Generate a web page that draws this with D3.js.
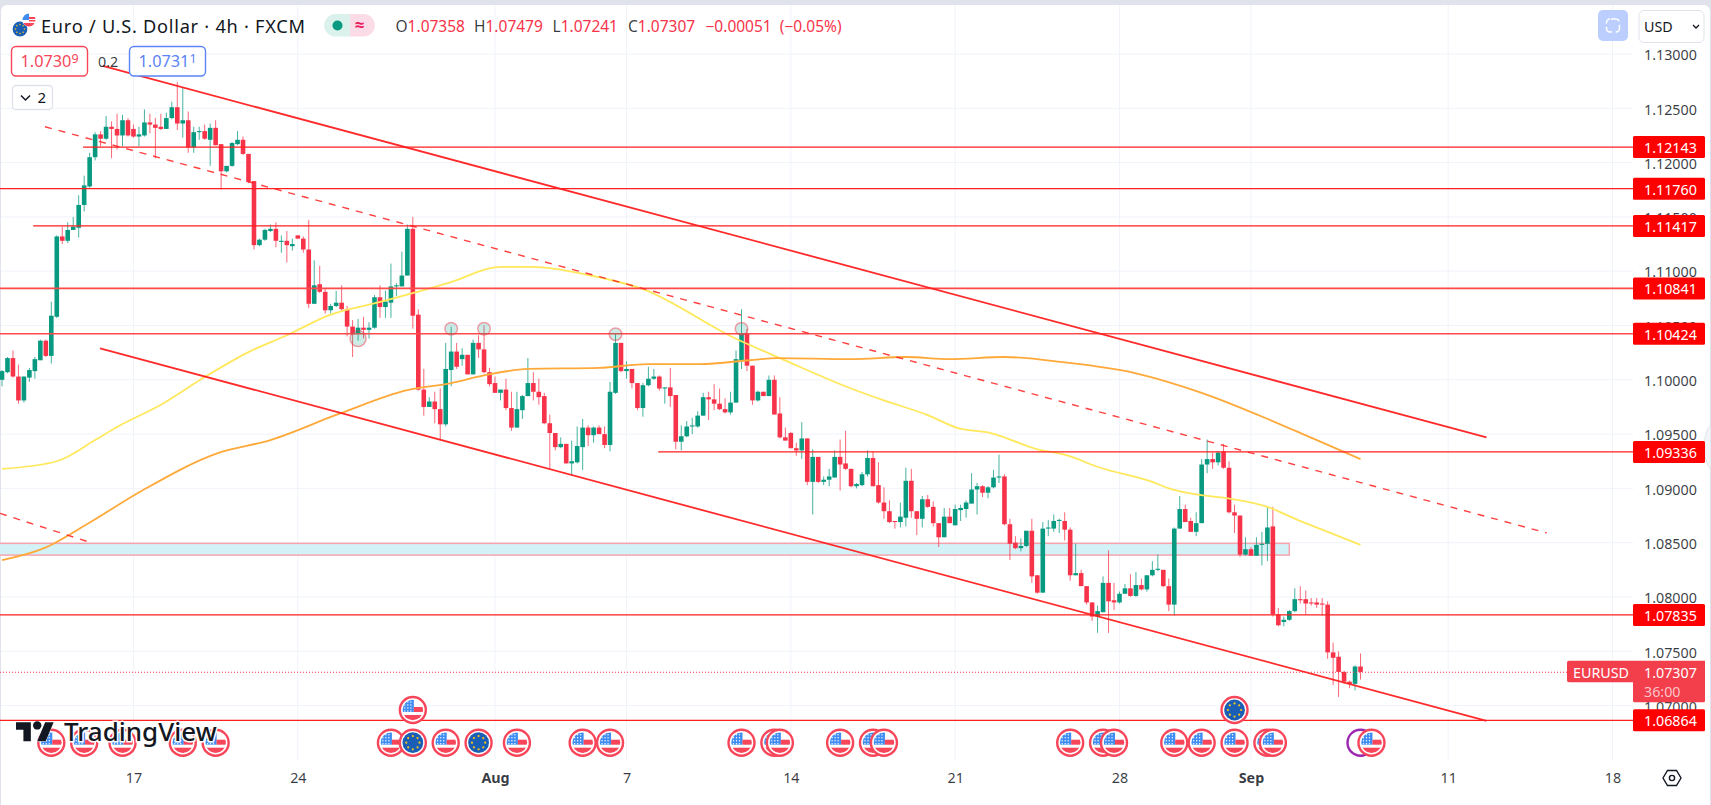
<!DOCTYPE html>
<html><head><meta charset="utf-8">
<script src="https://cdn.jsdelivr.net/npm/d3@7/dist/d3.min.js"></script>
<style>
html,body{margin:0;padding:0;background:#e0e3eb;overflow:hidden}
svg{display:block}
text{font-family:"Noto Sans","Open Sans",sans-serif}
</style></head><body><svg id="c" width="1711" height="805"></svg>
<script>
// Prices are in units of 0.0001 (pips); bar index 0 is the leftmost visible 4h bar.
const opens=[
11000,11007,11020,11003,10981,11002,11008,11018,11036,11022,
11058,11132,11128,11138,11140,11161,11178,11205,11226,11222,
11233,11231,11225,11239,11231,11224,11225,11237,11235,11233,
11231,11241,11251,11236,11239,11214,11228,11229,11221,11232,
11217,11192,11197,11217,11221,11208,11183,11124,11129,11137,
11139,11127,11128,11123,11133,11130,11120,11070,11088,11081,
11064,11068,11071,11065,11049,11043,11048,11046,11048,11076,
11067,11071,11086,11086,11096,11139,11060,10991,10975,10980,
10973,10959,11009,11026,11019,11023,11005,11034,11028,11007,
10997,10988,10991,10974,10956,10972,10985,10997,10989,10985,
10960,10951,10938,10941,10923,10924,10938,10956,10949,10956,
10950,10940,10988,11034,11008,11010,10997,10974,10995,11001,
11003,10992,10993,10986,10943,10948,10957,10957,10967,10984,
10982,10978,10973,10970,10979,11018,11043,11013,10981,10989,
10985,11000,10969,10947,10951,10937,10935,10946,10906,10929,
10906,10908,10910,10929,10923,10918,10902,10903,10913,10928,
10903,10887,10879,10870,10869,10873,10907,10879,10872,10890,
10883,10868,10855,10874,10866,10880,10881,10886,10899,10902,
10896,10901,10910,10911,10867,10850,10845,10847,10861,10820,
10804,10863,10863,10870,10870,10862,10820,10822,10810,10795,
10782,10786,10813,10797,10795,10803,10808,10801,10811,10807,
10820,10825,10825,10810,10793,10863,10881,10870,10860,10868,
10922,10927,10924,10934,10919,10878,10875,10839,10844,10838,
10848,10849,10865,10784,10777,10779,10787,10798,10798,10795,
10795,10794,10793,10749,10745,10731,10722,10720,10736];
const highs=[
11009,11021,11027,11014,11003,11011,11021,11037,11037,11072,
11133,11141,11145,11150,11170,11188,11209,11228,11229,11243,
11238,11245,11244,11241,11235,11233,11249,11245,11241,11245,
11246,11256,11274,11269,11247,11233,11233,11235,11236,11239,
11217,11197,11219,11229,11224,11208,11183,11130,11139,11143,
11145,11133,11137,11130,11133,11132,11147,11110,11105,11084,
11070,11082,11087,11068,11055,11056,11058,11053,11078,11087,
11082,11107,11089,11118,11143,11150,11065,11010,10984,10989,
10992,11034,11049,11034,11029,11023,11037,11041,11050,11011,
11003,10991,11001,10989,10989,10986,11020,11007,11001,10988,
10968,10951,10947,10941,10944,10957,10964,10958,10957,10958,
10957,10998,11043,11034,11017,11010,10997,10997,11012,11010,
11004,10993,11011,10986,10958,10962,10965,10971,10988,10989,
10996,10992,10983,10989,11027,11065,11047,11013,10990,10989,
11004,11004,10984,10956,10952,10942,10961,10946,10936,10929,
10911,10918,10935,10945,10953,10918,10905,10915,10935,10934,
10924,10901,10889,10870,10887,10919,10918,10879,10893,10894,
10888,10868,10882,10882,10885,10885,10889,10914,10905,10903,
10902,10917,10931,10913,10872,10856,10854,10861,10872,10820,
10869,10871,10876,10872,10878,10864,10849,10825,10810,10795,
10792,10819,10843,10813,10805,10812,10821,10823,10817,10820,
10833,10839,10825,10817,10864,10893,10885,10873,10878,10927,
10945,10933,10934,10941,10925,10885,10875,10855,10846,10855,
10860,10883,10883,10790,10782,10788,10808,10810,10806,10799,
10799,10799,10796,10758,10750,10732,10723,10737,10748];
const lows=[
10994,11006,11002,10978,10979,10998,11001,11018,11021,11015,
11057,11125,11126,11138,11131,11155,11177,11202,11215,11221,
11204,11212,11215,11224,11223,11215,11224,11227,11204,11230,
11231,11240,11230,11223,11209,11209,11221,11221,11197,11216,
11175,11191,11196,11216,11207,11181,11120,11123,11128,11136,
11122,11117,11108,11119,11130,11117,11066,11070,11080,11061,
11061,11067,11064,11040,11021,11036,11038,11038,11047,11057,
11057,11057,11077,11086,11096,11047,10990,10967,10975,10960,
10945,10957,10994,11010,11013,11005,11005,11020,11006,10994,
10988,10981,10972,10953,10956,10964,10985,10981,10977,10959,
10918,10935,10937,10923,10912,10923,10917,10939,10942,10950,
10937,10934,10987,11007,11001,10992,10972,10966,10994,11000,
10990,10978,10975,10936,10935,10947,10950,10956,10967,10963,
10972,10972,10969,10968,10979,11010,11008,10977,10980,10985,
10985,10968,10946,10944,10937,10930,10927,10903,10876,10905,
10903,10902,10910,10898,10917,10901,10900,10902,10911,10902,
10886,10872,10868,10863,10864,10865,10873,10857,10864,10882,
10865,10846,10855,10868,10866,10870,10873,10886,10876,10892,
10891,10900,10905,10866,10834,10844,10842,10846,10813,10803,
10804,10856,10860,10859,10852,10815,10820,10810,10793,10778,
10767,10786,10767,10788,10794,10803,10800,10800,10806,10805,
10819,10824,10809,10787,10783,10863,10869,10860,10856,10868,
10914,10918,10921,10918,10877,10859,10837,10838,10838,10838,
10829,10833,10782,10773,10773,10778,10786,10794,10784,10792,
10790,10783,10743,10719,10708,10720,10716,10714,10724];
const closes=[
11008,11020,11003,10981,11003,11009,11019,11036,11022,11059,
11132,11128,11138,11141,11161,11179,11205,11226,11222,11233,
11231,11225,11239,11225,11224,11226,11237,11235,11232,11231,
11241,11251,11236,11239,11214,11228,11229,11222,11232,11216,
11192,11197,11218,11221,11208,11182,11124,11129,11138,11139,
11128,11128,11124,11125,11130,11120,11070,11087,11081,11064,
11068,11071,11065,11049,11042,11048,11046,11048,11076,11067,
11072,11086,11087,11096,11139,11059,10991,10975,10980,10973,
10959,11010,11026,11012,11023,11005,11034,11028,11007,10996,
10988,10991,10974,10956,10973,10985,10997,10989,10984,10960,
10951,10938,10941,10923,10925,10939,10956,10949,10956,10950,
10940,10989,11034,11008,11010,10997,10974,10995,11001,11003,
10992,10993,10985,10943,10948,10957,10958,10967,10984,10982,
10978,10973,10970,10979,11019,11043,11013,10981,10989,10985,
11000,10968,10947,10944,10937,10935,10946,10906,10929,10906,
10908,10911,10929,10922,10918,10902,10904,10913,10928,10902,
10887,10879,10869,10869,10874,10907,10879,10872,10890,10883,
10868,10855,10874,10868,10881,10882,10887,10899,10902,10896,
10901,10910,10911,10867,10849,10845,10847,10861,10819,10804,
10863,10864,10870,10871,10862,10820,10822,10810,10795,10782,
10787,10813,10796,10795,10803,10808,10801,10811,10807,10820,
10825,10826,10810,10793,10863,10881,10869,10860,10868,10922,
10927,10924,10933,10919,10878,10875,10839,10844,10838,10848,
10849,10864,10784,10774,10779,10787,10798,10797,10794,10794,
10793,10793,10749,10744,10731,10722,10720,10736,10731];

// moving averages: [bar index, price]
const yellowBars=[0,10,17,21,29,37,45,52,60,68.5,82,91,97,107,117,133.5,142,155,161,169,174.5,180.5,189,194,200.5,210,213,218.7,223.6,231,236.5,242.5,248];
const yellowVals=[10918,10925,10944.5,10956.5,10977,11002.5,11025.5,11041,11060,11071,11090,11104,11104,11096.5,11083.5,11039,11020,10992,10981,10967.5,10955.5,10951,10936,10931,10919,10906,10900,10894,10891,10883,10871,10859,10848];
const orangeBars=[0,7.7,15.5,25.6,39.4,49,61.7,74,82,88,96,109,118,127.4,136.5,141.5,155,165,173,183,194,207,219,231.5,239.3,248];
const orangeVals=[10834,10845,10867,10898,10932.5,10944.5,10969,10990.5,10997,11004,11010,11011,11014.5,11014.5,11018,11020,11019,11021,11019,11021,11016,11006,10988,10963,10946,10927];

// horizontal levels
const levelPrices=[1.12143,1.11760,1.11417,1.10841,1.10424,1.09336,1.07835,1.06864];
const levelStart=[14.8,-1,5.7,-1,-1,119.8,-1,-1];
const levelHeavy=[false,false,false,true,true,false,false,false];

// trend lines as [barA, priceA, barB, priceB]
const channelUpper=[18.4,11289,271,10947];
const channelLower=[17.9,11029,271,10686];
const channelMid=[7.85,11233,282,10859];
const channelOld=[-0.37,10877,16.25,10850];

// support zone
const zoneTop=10849.4, zoneBottom=10838.6, zoneEndBar=235;

// circled pivots
const pivotBars=[65,82,88,112,135];
const pivotVals=[11038,11047,11047,11042,11047];
const pivotSizes=[8,6.3,6.3,6.3,6.3];

// axis
const priceTicks=[1.13,1.125,1.12,1.115,1.11,1.105,1.10,1.095,1.09,1.085,1.08,1.075,1.07];
const timeTickBars=[24,54,90,114,144,174,204,228,264,294];
const timeTickLabels=["17","24","Aug","7","14","21","28","Sep","11","18"];
const timeTickBold=["Aug","Sep"];

// economic events
const usEventBars=[9,15,22,33,39,71,81,94,106,111,135,141,142,153,159,161,195,201,203,214,219,225,231,232];
const euEventBars=[75,87];
const usTopBars=[75];
const euTopBars=[225];
const otherEventBars=[248];
const usEventLast=250;

const svg=d3.select("#c");
const W=1711,H=805,axisX=1633,axisBottomY=760;
const x=d3.scaleLinear().domain([0,294]).range([2,1612.5]);
const y=d3.scaleLinear().domain([1.13,1.07]).range([54,705.6]);
const yp=v=>y(v/1e4);
const UP="#089981",DOWN="#f7334a",LINE="#ff1f1f";

const defs=svg.append("defs");
defs.append("clipPath").attr("id","plot").append("rect").attr("x",0).attr("y",5).attr("width",axisX).attr("height",axisBottomY-5);
defs.append("clipPath").attr("id","flagClip").append("circle").attr("r",10.2);
defs.append("clipPath").attr("id","miniClip").append("circle").attr("r",6.5);

// background
svg.append("rect").attr("width",W).attr("height",H).attr("fill","#e0e3eb");
svg.append("rect").attr("x",1).attr("y",5).attr("width",W-2).attr("height",H+10).attr("rx",6).attr("fill","#fff");

// grid
const grid=svg.append("g").attr("stroke","#f0f3fa").attr("stroke-width",1);
grid.selectAll("line.v").data(timeTickBars).join("line").attr("x1",d=>x(d)).attr("x2",d=>x(d)).attr("y1",5).attr("y2",axisBottomY);
grid.selectAll("line.h").data(priceTicks).join("line").attr("x1",1).attr("x2",axisX).attr("y1",d=>y(d)).attr("y2",d=>y(d));

const plot=svg.append("g").attr("clip-path","url(#plot)");

// zone
plot.append("rect").attr("x",x(-2)).attr("y",yp(zoneTop)).attr("width",x(zoneEndBar)-x(-2)).attr("height",yp(zoneBottom)-yp(zoneTop))
 .attr("fill","#d3f2f8").attr("stroke","#f7a3ab").attr("stroke-width",1.5);

// candles
const bars=d3.range(opens.length);
const gc=plot.append("g");
gc.selectAll("line").data(bars).join("line")
 .attr("x1",i=>x(i)).attr("x2",i=>x(i)).attr("y1",i=>yp(highs[i])).attr("y2",i=>yp(lows[i]))
 .attr("stroke",i=>closes[i]>=opens[i]?UP:DOWN).attr("stroke-width",1).attr("stroke-opacity",.75);
gc.selectAll("rect").data(bars).join("rect")
 .attr("x",i=>x(i)-2.3).attr("width",4.6)
 .attr("y",i=>yp(Math.max(opens[i],closes[i])))
 .attr("height",i=>Math.max(1,Math.abs(yp(opens[i])-yp(closes[i]))))
 .attr("fill",i=>closes[i]>=opens[i]?UP:DOWN);

// moving averages
const ma=(bx,vals)=>d3.line().x((d,i)=>x(bx[i])).y(d=>yp(d)).curve(d3.curveMonotoneX)(vals);
plot.append("path").attr("d",ma(yellowBars,yellowVals)).attr("fill","none").attr("stroke","#ffe85c").attr("stroke-width",1.8);
plot.append("path").attr("d",ma(orangeBars,orangeVals)).attr("fill","none").attr("stroke","#ffa93a").attr("stroke-width",1.8);

// levels
const lg=plot.append("g");
levelPrices.forEach((p,i)=>{
 lg.append("line").attr("x1",x(levelStart[i])).attr("x2",axisX).attr("y1",y(p)).attr("y2",y(p))
  .attr("stroke",levelHeavy[i]?"#ff4a4a":LINE).attr("stroke-width",levelHeavy[i]?1.7:1.3);
});

// trend lines
function trend(a,dash,w,op){
 const l=plot.append("line").attr("x1",x(a[0])).attr("y1",yp(a[1])).attr("x2",x(a[2])).attr("y2",yp(a[3]))
  .attr("stroke",LINE).attr("stroke-width",w).attr("stroke-opacity",op);
 if(dash) l.attr("stroke-dasharray",dash);
}
trend(channelUpper,null,1.8,.95);
trend(channelLower,null,1.8,.95);
trend(channelMid,"7 7",1.4,.85);
trend(channelOld,"7 7",1.4,.85);

// current price dotted
const lastClose=1.07307;
plot.append("line").attr("x1",0).attr("x2",axisX).attr("y1",y(lastClose)).attr("y2",y(lastClose))
 .attr("stroke",DOWN).attr("stroke-dasharray","1 2").attr("stroke-width",1);

// pivots
plot.selectAll("circle.p").data(pivotBars).join("circle")
 .attr("cx",d=>x(d)).attr("cy",(d,i)=>yp(pivotVals[i])).attr("r",(d,i)=>pivotSizes[i])
 .attr("fill","#089981").attr("fill-opacity",.2).attr("stroke","#f7334a").attr("stroke-opacity",.45).attr("stroke-width",1.5);

// flags
function usFlag(g){
 g.append("circle").attr("r",13).attr("fill","#fff").attr("stroke","#f7455a").attr("stroke-width",2.4);
 const f=g.append("g").attr("clip-path","url(#flagClip)");
 f.append("rect").attr("x",-11).attr("y",-11).attr("width",22).attr("height",22).attr("fill","#fff");
 f.append("rect").attr("x",-11).attr("y",-11).attr("width",12).attr("height",13).attr("fill","#3f8df0");
 f.append("rect").attr("x",1).attr("y",-3).attr("width",10).attr("height",3).attr("fill","#f7455a");
 f.append("rect").attr("x",-11).attr("y",5).attr("width",22).attr("height",6).attr("fill","#f7455a");
 f.append("rect").attr("x",1).attr("y",-1).attr("width",10).attr("height",3).attr("fill","#f7455a");
 d3.range(-8,1,3).forEach(a=>d3.range(-8,2,3).forEach(b=>f.append("circle").attr("cx",a).attr("cy",b).attr("r",.7).attr("fill","#fff")));
}
function euFlag(g){
 g.append("circle").attr("r",13).attr("fill","#fff").attr("stroke","#f7455a").attr("stroke-width",2.4);
 g.append("circle").attr("r",10.4).attr("fill","#1b5eb5");
 d3.range(8).forEach(n=>{const a=n/8*2*Math.PI;g.append("circle").attr("cx",6.6*Math.cos(a)).attr("cy",6.6*Math.sin(a)).attr("r",1.1).attr("fill","#f5c518");});
}
const rowBottom=742.7,rowTop=710;
const ev=svg.append("g");
otherEventBars.forEach(b=>{const g=ev.append("g").attr("transform",`translate(${x(b)},${rowBottom})`);
 g.append("circle").attr("r",13).attr("fill","#fff").attr("stroke","#9c27b0").attr("stroke-width",2.4);});
usEventBars.forEach(b=>usFlag(ev.append("g").attr("transform",`translate(${x(b)},${rowBottom})`)));
euEventBars.forEach(b=>euFlag(ev.append("g").attr("transform",`translate(${x(b)},${rowBottom})`)));
usFlag(ev.append("g").attr("transform",`translate(${x(usEventLast)},${rowBottom})`));
usTopBars.forEach(b=>usFlag(ev.append("g").attr("transform",`translate(${x(b)},${rowTop})`)));
euTopBars.forEach(b=>euFlag(ev.append("g").attr("transform",`translate(${x(b)},${rowTop})`)));

// TradingView logo
const logo=svg.append("g");
logo.append("path").attr("transform","translate(16,718) scale(1.06)").attr("d","M14 22H7V11H0V4h14v18zM28 22h-8l7.5-18h8L28 22z").attr("fill","#131722").attr("stroke","#fff").attr("stroke-width",.8).attr("paint-order","stroke");
logo.append("circle").attr("cx",16+20*1.06).attr("cy",718+7*1.06).attr("r",4.2).attr("fill","#131722");
logo.append("text").attr("x",64).attr("y",741).attr("font-size",26).attr("font-weight",500).attr("fill","#131722").attr("stroke","#fff").attr("stroke-width",3).attr("paint-order","stroke").text("TradingView");

// side toggle (behind the labels)
svg.append("path").attr("d","M1711 424a30 30 0 0 0 -6 23a30 30 0 0 0 6 23z").attr("fill","#f3f4f8").attr("stroke","#e0e3eb");

// price axis
const yAxis=d3.axisRight(y).tickValues(priceTicks).tickFormat(d3.format(".5f")).tickSize(0).tickPadding(11);
const ya=svg.append("g").attr("transform",`translate(${axisX},0)`).call(yAxis);
ya.select(".domain").remove();
ya.selectAll("text").attr("font-size",14.3).attr("fill","#131722").attr("fill-opacity",.85).attr("dy","0.4em").style("font-family",'"Noto Sans"');

// time axis
const xAxis=d3.axisBottom(x).tickValues(timeTickBars).tickFormat((d,i)=>timeTickLabels[i]).tickSize(0).tickPadding(13);
const xa=svg.append("g").attr("transform",`translate(0,${axisBottomY})`).call(xAxis);
xa.select(".domain").remove();
xa.selectAll("text").attr("font-size",14.3).attr("fill","#131722").attr("fill-opacity",.85).style("font-family",'"Noto Sans"')
 .attr("font-weight",(d,i)=>timeTickBold.includes(timeTickLabels[i])?700:400);

// level labels
const fmt=d3.format(".5f");
levelPrices.forEach(p=>{
 svg.append("rect").attr("x",axisX).attr("y",y(p)-11).attr("width",72).attr("height",22).attr("rx",1.5).attr("fill","#ff0000");
 svg.append("text").attr("x",1644).attr("y",y(p)+6).attr("font-size",14.3).attr("fill","#fff").text(fmt(p));
});

// current price label
const yc=y(lastClose);
svg.append("path").attr("d",`M1567 ${yc-9.5}a2 2 0 0 1 2 -2H1705V${yc+28.5}a1.5 1.5 0 0 1 -1.5 1.5H1634.5a1.5 1.5 0 0 1 -1.5 -1.5V${yc+10}H1569a2 2 0 0 1 -2 -2z`).attr("fill","#f23645").attr("fill-opacity",.96);
svg.append("text").attr("x",1573).attr("y",yc+5.5).attr("font-size",14.3).attr("fill","#fff").text("EURUSD");
svg.append("text").attr("x",1644).attr("y",yc+5.5).attr("font-size",14.3).attr("fill","#fff").text(fmt(lastClose));
svg.append("text").attr("x",1644).attr("y",yc+24.5).attr("font-size",14.3).attr("fill","#fff").attr("fill-opacity",.7).text("36:00");

// gear
const gear=svg.append("g").attr("transform","translate(1672,778)").attr("fill","none").attr("stroke","#131722").attr("stroke-width",1.4);
gear.append("path").attr("d","M-9 0L-4.5 -7.5H4.5L9 0L4.5 7.5H-4.5Z");
gear.append("circle").attr("r",2.6);

// top-right controls
svg.append("rect").attr("x",1598).attr("y",10).attr("width",30).attr("height",31).attr("rx",5).attr("fill","#bbcefd");
svg.append("rect").attr("x",1606.5).attr("y",19).attr("width",13).attr("height",13).attr("rx",3.5).attr("fill","none").attr("stroke","#fff").attr("stroke-width",1.5).attr("stroke-dasharray","9 3.5 9.5 3.5").attr("stroke-dashoffset",-1);
svg.append("rect").attr("x",1639).attr("y",10.5).attr("width",65).attr("height",32).attr("rx",5).attr("fill","#fff").attr("stroke","#e0e3eb");
svg.append("text").attr("x",1644).attr("y",32).attr("font-size",14.3).attr("fill","#131722").text("USD");
svg.append("path").attr("d","M1693 25l3 3l3 -3").attr("fill","none").attr("stroke","#131722").attr("stroke-width",1.3);

// header
const iconEU=svg.append("g").attr("transform","translate(20,29)");
const iconUS=svg.append("g").attr("transform","translate(29,20)");
iconUS.append("circle").attr("r",6.7).attr("fill","#fff");
const us=iconUS.append("g").attr("clip-path","url(#miniClip)");
us.append("rect").attr("x",-7).attr("y",-7).attr("width",7).attr("height",7).attr("fill","#3f8df0");
us.append("rect").attr("x",0).attr("y",-3).attr("width",7).attr("height",2).attr("fill","#f7455a");
us.append("rect").attr("x",-7).attr("y",3).attr("width",14).attr("height",4).attr("fill","#f7455a");
us.append("rect").attr("x",0).attr("y",0).attr("width",7).attr("height",1.5).attr("fill","#f7455a");
iconEU.append("circle").attr("r",8.6).attr("fill","#fff");
iconEU.append("circle").attr("r",7.4).attr("fill","#1b5eb5");
d3.range(8).forEach(n=>{const a=n/8*2*Math.PI;iconEU.append("circle").attr("cx",4.5*Math.cos(a)).attr("cy",4.5*Math.sin(a)).attr("r",.8).attr("fill","#f5c518");});

svg.append("text").attr("x",41).attr("y",33).attr("font-size",18.2).attr("fill","#131722").attr("textLength",264).attr("xml:space","preserve").text("Euro / U.S. Dollar · 4h · FXCM");

// status pill
svg.append("path").attr("d","M350 14H335.5a11.3 11.3 0 0 0 0 22.6H350z").attr("fill","#daf1ec");
svg.append("path").attr("d","M350 14H363.5a11.3 11.3 0 0 1 0 22.6H350z").attr("fill","#fbdce6");
svg.append("circle").attr("cx",337.5).attr("cy",25.5).attr("r",5).attr("fill","#089981");
svg.append("text").attr("x",359.5).attr("y",31).attr("text-anchor","middle").attr("font-size",17).attr("font-weight",700).attr("fill","#e91e63").text("≈");

// OHLC legend
const ohlcKeys=["O","H","L","C"];
const ohlcVals=["1.07358","1.07479","1.07241","1.07307"];
const ohlcX=[395.5,474,552.5,628];
const HDR=15.5;
ohlcKeys.forEach((k,i)=>{
 const t=svg.append("text").attr("x",ohlcX[i]).attr("y",31.5).attr("font-size",HDR);
 t.append("tspan").attr("fill","#131722").attr("fill-opacity",.85).text(k);
 t.append("tspan").attr("fill",DOWN).text(ohlcVals[i]);
});
svg.append("text").attr("x",705.5).attr("y",31.5).attr("font-size",HDR).attr("fill",DOWN).attr("xml:space","preserve").text("−0.00051  (−0.05%)");

// bid/ask boxes
function box(xx,w,col,main,sup){
 svg.append("rect").attr("x",xx).attr("y",46.5).attr("width",w).attr("height",29.5).attr("rx",4.5).attr("fill","#fff").attr("stroke",col).attr("stroke-width",1.4);
 const t=svg.append("text").attr("x",xx+w/2).attr("y",67).attr("text-anchor","middle").attr("font-size",16.3).attr("fill",col);
 t.append("tspan").text(main);
 t.append("tspan").attr("font-size",12.5).attr("dy",-4).text(sup);
}
box(11.5,76,"#f7465a","1.0730","9");
box(129.5,76,"#5b84f5","1.0731","1");
svg.append("text").attr("x",98).attr("y",67).attr("font-size",14.3).attr("fill","#131722").attr("fill-opacity",.85).text("0.2");

svg.append("rect").attr("x",12.5).attr("y",85.5).attr("width",40).attr("height",24).attr("rx",3.5).attr("fill","#fff").attr("stroke","#e0e3eb").attr("stroke-width",1.3);
svg.append("path").attr("d","M21 95.5l4.5 4.5l4.5 -4.5").attr("fill","none").attr("stroke","#131722").attr("stroke-width",1.5);
svg.append("text").attr("x",37.5).attr("y",103).attr("font-size",15).attr("fill","#131722").text("2");
</script></body></html>
